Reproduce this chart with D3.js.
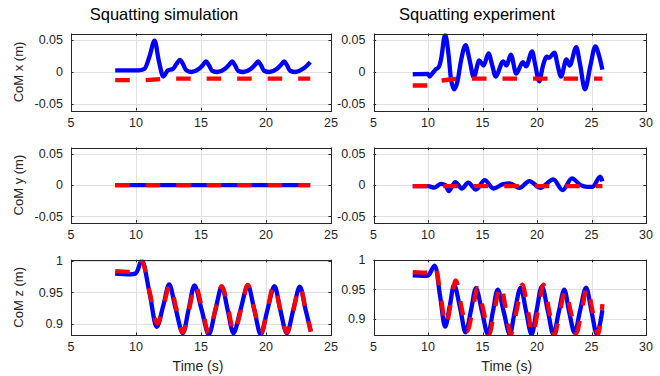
<!DOCTYPE html>
<html>
<head>
<meta charset="utf-8">
<script src="https://cdn.jsdelivr.net/npm/d3@7"></script>
<style>
  html, body { margin: 0; padding: 0; background: #fff; }
  svg { display: block; font-family: "Liberation Sans", Arial, Helvetica, sans-serif; }
</style>
</head>
<body>
<svg id="chart" width="660" height="376"></svg>
<script>
// ---------- DATA ----------
const titles = ["Squatting simulation", "Squatting experiment"];
const yLabels = ["CoM x (m)", "CoM y (m)", "CoM z (m)"];
const xLabel = "Time (s)";

const xTicksSim = [5, 10, 15, 20, 25];
const xTicksExp = [5, 10, 15, 20, 25, 30];
const yTicksXY = [-0.05, 0, 0.05];
const yTicksZ = [0.9, 0.95, 1];
const yTickLabelsXY = ["-0.05", "0", "0.05"];
const yTickLabelsZ = ["0.9", "0.95", "1"];

// Simulation CoM x (blue = measured, red = reference)
const simXTime = [8.4, 10.2, 10.65, 11.05, 11.43, 11.75, 12.1, 12.45, 12.85, 13.1, 13.38, 13.6, 13.85, 14.25, 14.85, 15.15, 15.38, 15.6, 15.85, 16.25, 16.85, 17.15, 17.4, 17.6, 17.85, 18.25, 18.85, 19.15, 19.4, 19.6, 19.85, 20.25, 20.85, 21.15, 21.4, 21.6, 21.85, 22.25, 22.85, 23.1, 23.4];
const simXBlue = [0.0026, 0.0026, 0.005, 0.025, 0.049, 0.018, -0.007, 0.0026, 0.005, 0.012, 0.019, 0.013, 0.003, 0.0, 0.005, 0.011, 0.0165, 0.011, 0.002, 0.0, 0.005, 0.011, 0.0165, 0.011, 0.002, 0.0, 0.005, 0.011, 0.0165, 0.011, 0.002, 0.0, 0.005, 0.011, 0.0165, 0.011, 0.002, 0.0, 0.005, 0.009, 0.0155];
const simXRefTime = [8.4, 10.0, 11.0, 12.2, 13.0, 23.4];
const simXRed = [-0.0128, -0.0128, -0.0124, -0.0107, -0.0102, -0.0102];

// Experiment CoM x
const expXTime = [8.6, 10.0, 10.15, 10.45, 10.7, 11.0, 11.2, 11.57, 11.9, 12.1, 12.4, 12.7, 13.0, 13.45, 13.8, 14.2, 14.7, 15.1, 15.55, 15.9, 16.2, 16.9, 17.2, 17.6, 18.1, 18.7, 19.0, 19.55, 19.85, 20.2, 20.55, 20.9, 21.1, 21.6, 21.9, 22.2, 22.7, 23.0, 23.6, 23.95, 24.4, 24.9, 25.35, 25.7, 26.0];
const expXBlue = [-0.0035, -0.003, -0.007, -0.001, 0.004, 0.008, 0.02, 0.058, 0.025, -0.01, -0.027, -0.015, 0.015, 0.042, 0.02, -0.008, 0.018, 0.010, 0.029, 0.01, -0.007, 0.0165, 0.010, 0.027, -0.0025, 0.0155, 0.009, 0.032, 0.01, -0.0145, 0.01, 0.024, 0.022, 0.030, 0.01, -0.007, 0.0195, 0.010, 0.0387, 0.012, -0.027, 0.01, 0.040, 0.025, 0.0037];
const expXRefTime = [8.6, 10.05, 10.6, 11.2, 12.5, 13.5, 26.0];
const expXRed = [-0.021, -0.021, -0.014, -0.0133, -0.0107, -0.0102, -0.0102];

// Simulation CoM y
const simYTime = [8.4, 23.4];
const simYBlue = [0, 0];
const simYRefTime = [8.4, 23.4];
const simYRed = [0, 0];

// Experiment CoM y
const expYTime = [8.6, 10.0, 10.6, 11.2, 11.6, 11.9, 12.5, 13.1, 13.7, 14.4, 15.2, 16.0, 16.9, 17.5, 18.4, 19.3, 20.3, 21.5, 22.35, 23.2, 24.0, 24.6, 25.1, 25.8, 26.0];
const expYBlue = [-0.0016, -0.0016, -0.004, 0.002, 0.0, -0.0097, 0.0048, -0.0054, 0.0038, -0.007, 0.008, -0.0054, 0.0016, 0.0027, -0.0043, 0.0065, -0.0043, 0.0091, -0.008, 0.0108, 0.0, -0.0027, -0.0027, 0.0134, 0.006];
const expYRefTime = [8.6, 26.0];
const expYRed = [-0.0015, -0.0015];

// Simulation CoM z
const simZTime = [8.4, 9.95, 10.1, 10.45, 11.05, 11.6, 12.1, 12.55, 13.05, 13.6, 14.05, 14.5, 15.05, 15.6, 16.1, 16.6, 17.05, 17.5, 18.05, 18.6, 19.1, 19.6, 20.1, 20.65, 21.1, 21.6, 22.1, 22.6, 23.05, 23.45];
const simZBlue = [0.98, 0.98, 0.984, 1.001, 0.948, 0.895, 0.929, 0.9625, 0.924, 0.885, 0.923, 0.961, 0.922, 0.883, 0.921, 0.959, 0.922, 0.885, 0.923, 0.961, 0.922, 0.883, 0.921, 0.96, 0.922, 0.885, 0.922, 0.959, 0.922, 0.888];
const simZRefTime = [8.4, 10.0, 10.15, 10.45, 11.05, 11.65, 12.15, 12.6, 13.1, 13.6, 14.1, 14.55, 15.1, 15.6, 16.1, 16.6, 17.1, 17.55, 18.1, 18.6, 19.1, 19.6, 20.1, 20.6, 21.1, 21.6, 22.1, 22.6, 23.05, 23.45];
const simZRed = [0.9837, 0.9837, 0.987, 1.0, 0.95, 0.90, 0.931, 0.962, 0.924, 0.886, 0.924, 0.962, 0.923, 0.885, 0.922, 0.96, 0.923, 0.886, 0.924, 0.962, 0.923, 0.885, 0.922, 0.961, 0.923, 0.886, 0.922, 0.959, 0.922, 0.887];

// Experiment CoM z
const expZTime = [8.6, 10.0, 10.15, 10.6, 11.1, 11.57, 12.0, 12.4, 12.95, 13.45, 13.95, 14.4, 14.95, 15.5, 15.95, 16.4, 16.95, 17.5, 17.95, 18.5, 19.0, 19.5, 19.95, 20.45, 21.0, 21.5, 22.0, 22.5, 22.95, 23.45, 23.95, 24.5, 25.0, 25.5, 26.0];
const expZBlue = [0.9734, 0.9734, 0.976, 0.990, 0.94, 0.887, 0.922, 0.9576, 0.918, 0.8774, 0.915, 0.952, 0.913, 0.874, 0.912, 0.9495, 0.912, 0.874, 0.912, 0.953, 0.913, 0.874, 0.913, 0.955, 0.913, 0.874, 0.912, 0.9495, 0.912, 0.877, 0.914, 0.953, 0.913, 0.874, 0.915];
const expZRefTime = [8.6, 10.0, 10.15, 10.6, 11.15, 11.65, 12.1, 12.55, 13.05, 13.6, 14.1, 14.55, 15.1, 15.6, 16.1, 16.65, 17.15, 17.6, 18.15, 18.65, 19.15, 19.6, 20.1, 20.6, 21.1, 21.6, 22.1, 22.6, 23.1, 23.6, 24.1, 24.6, 25.1, 25.6, 26.0];
const expZRed = [0.979, 0.979, 0.981, 0.99, 0.94, 0.89, 0.927, 0.965, 0.922, 0.88, 0.916, 0.952, 0.913, 0.874, 0.915, 0.957, 0.916, 0.874, 0.916, 0.958, 0.916, 0.874, 0.916, 0.958, 0.915, 0.874, 0.912, 0.948, 0.912, 0.876, 0.914, 0.953, 0.913, 0.874, 0.925];

// ---------- LAYOUT ----------
const svg = d3.select("#chart");
const colBox = [{x0: 71, x1: 331, dom: [5, 25], ticks: xTicksSim},
                {x0: 373.5, x1: 646, dom: [5, 30], ticks: xTicksExp}];
const rowBox = [{y0: 33.5, y1: 110.5}, {y0: 147.5, y1: 222.7}, {y0: 259.7, y1: 335}];
const yDomains = [
  [[-0.06, 0.06], [-0.06, 0.06]],
  [[-0.06, 0.06], [-0.06, 0.06]],
  [[0.882, 1.002], [0.873, 1.0]]
];
const yTickSets = [[yTicksXY, yTickLabelsXY], [yTicksXY, yTickLabelsXY], [yTicksZ, yTickLabelsZ]];
const seriesSets = [
  [[[simXTime, simXBlue], [simXRefTime, simXRed]], [[expXTime, expXBlue], [expXRefTime, expXRed]]],
  [[[simYTime, simYBlue], [simYRefTime, simYRed]], [[expYTime, expYBlue], [expYRefTime, expYRed]]],
  [[[simZTime, simZBlue], [simZRefTime, simZRed]], [[expZTime, expZBlue], [expZRefTime, expZRed]]]
];

const axisColor = "#262626";
const gridColor = "#e1e1e1";
let clipId = 0;

rowBox.forEach((rb, r) => {
  colBox.forEach((cb, c) => {
    const x = d3.scaleLinear().domain(cb.dom).range([cb.x0, cb.x1]);
    const y = d3.scaleLinear().domain(yDomains[r][c]).range([rb.y1, rb.y0]);
    const [yt, ytl] = yTickSets[r];
    const g = svg.append("g");

    // grid
    g.append("g").selectAll("line.gx").data(cb.ticks).join("line")
      .attr("x1", d => Math.round(x(d)) + 0.5).attr("x2", d => Math.round(x(d)) + 0.5)
      .attr("y1", rb.y0).attr("y2", rb.y1)
      .attr("stroke", gridColor).attr("stroke-width", 1);
    g.append("g").selectAll("line.gy").data(yt).join("line")
      .attr("y1", d => Math.round(y(d)) + 0.5).attr("y2", d => Math.round(y(d)) + 0.5)
      .attr("x1", cb.x0).attr("x2", cb.x1)
      .attr("stroke", gridColor).attr("stroke-width", 1);

    // clip
    const id = "clip" + (clipId++);
    svg.append("clipPath").attr("id", id).append("rect")
      .attr("x", cb.x0).attr("y", rb.y0).attr("width", cb.x1 - cb.x0).attr("height", rb.y1 - rb.y0);

    const curve = r === 2 ? d3.curveCatmullRom.alpha(0.5) : d3.curveMonotoneX;
    const line = d3.line().x(d => x(d[0])).y(d => y(d[1])).curve(curve);
    const [blue, red] = seriesSets[r][c];
    const toPts = s => s[0].map((t, i) => [t, s[1][i]]);
    const plot = g.append("g").attr("clip-path", `url(#${id})`);
    plot.append("path").attr("d", line(toPts(blue)))
      .attr("fill", "none").attr("stroke", "#0000ff").attr("stroke-width", 4.3)
      .attr("stroke-linejoin", "round").attr("stroke-linecap", "butt");
    plot.append("path").attr("d", line(toPts(red)))
      .attr("fill", "none").attr("stroke", "#ff0000").attr("stroke-width", 4.3)
      .attr("stroke-dasharray", "14.5,16").attr("stroke-linecap", "butt");

    // box
    g.append("rect").attr("x", Math.round(cb.x0) + 0.5).attr("y", Math.round(rb.y0) + 0.5)
      .attr("width", Math.round(cb.x1) - Math.round(cb.x0)).attr("height", Math.round(rb.y1) - Math.round(rb.y0))
      .attr("fill", "none").attr("stroke", axisColor).attr("stroke-width", 1);

    // ticks (inward on all four sides)
    const tl = 2.6;
    cb.ticks.forEach(t => {
      const px = Math.round(x(t)) + 0.5;
      g.append("line").attr("x1", px).attr("x2", px).attr("y1", rb.y1).attr("y2", rb.y1 - tl).attr("stroke", axisColor);
      g.append("line").attr("x1", px).attr("x2", px).attr("y1", rb.y0).attr("y2", rb.y0 + tl).attr("stroke", axisColor);
    });
    yt.forEach(t => {
      const py = Math.round(y(t)) + 0.5;
      g.append("line").attr("y1", py).attr("y2", py).attr("x1", cb.x0).attr("x2", cb.x0 + tl).attr("stroke", axisColor);
      g.append("line").attr("y1", py).attr("y2", py).attr("x1", cb.x1).attr("x2", cb.x1 - tl).attr("stroke", axisColor);
    });

    // tick labels
    g.append("g").selectAll("text").data(cb.ticks).join("text")
      .attr("x", d => x(d)).attr("y", rb.y1 + 16)
      .attr("text-anchor", "middle").attr("font-size", 12.5).attr("fill", axisColor)
      .text(d => d);
    g.append("g").selectAll("text").data(yt).join("text")
      .attr("x", cb.x0 - 8).attr("y", d => y(d) + 4.3)
      .attr("text-anchor", "end").attr("font-size", 12.5).attr("fill", axisColor)
      .text((d, i) => ytl[i]);

    if (r === 0) {
      const tx = c === 0 ? 164 : 477;
      svg.append("text").attr("x", tx).attr("y", 20).attr("text-anchor", "middle")
        .attr("font-size", 16.5).attr("fill", "#000").text(titles[c]);
    }
    if (r === 2) {
      svg.append("text").attr("x", (cb.x0 + cb.x1) / 2 - 3).attr("y", 371).attr("text-anchor", "middle")
        .attr("font-size", 14).attr("fill", axisColor).text(xLabel);
    }
    if (c === 0) {
      const cy = (rb.y0 + rb.y1) / 2;
      svg.append("text").attr("transform", `translate(23,${cy}) rotate(-90)`)
        .attr("text-anchor", "middle").attr("font-size", 13).attr("fill", axisColor).text(yLabels[r]);
    }
  });
});
</script>
</body>
</html>
